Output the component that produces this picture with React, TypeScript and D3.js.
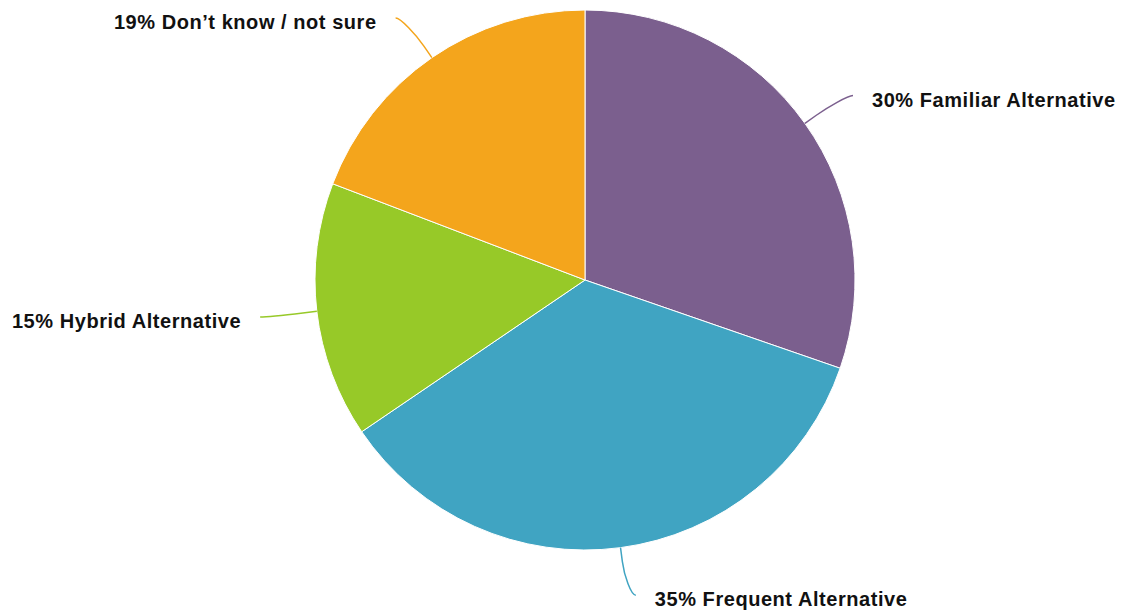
import React from "react";
import * as d3 from "d3";

const categories = ["Familiar Alternative", "Frequent Alternative", "Hybrid Alternative", "Don\u2019t know / not sure"];
const values = [30.3, 35.2, 15.3, 19.2];
const labelPercents = ["30%", "35%", "15%", "19%"];
const colors = ["#7B5F8E", "#40A4C2", "#97C928", "#F4A51C"];

const W = 1126;
const H = 614;
const cx = 585;
const cy = 280;
const R = 270;

export default function App() {
  const pie = d3.pie<number>().sort(null).value((d) => d)(values);
  const arc = d3.arc<d3.PieArcDatum<number>>().innerRadius(0).outerRadius(R);
  const polar = (a: number, r: number) => [Math.sin(a) * r, -Math.cos(a) * r];

  return (
    <svg width={W} height={H} style={{ position: "absolute", left: 0, top: 0, background: "#fff" }}>
      <g transform={`translate(${cx},${cy})`}>
        {pie.map((p, i) => (
          <path key={i} d={arc(p) || ""} fill={colors[i]} stroke="#fff" strokeWidth={1} strokeLinejoin="round" />
        ))}
        {pie.map((p, i) => {
          const mid = (p.startAngle + p.endAngle) / 2;
          const right = Math.sin(mid) >= 0;
          const sgn = right ? 1 : -1;
          const [tx, ty] = polar(mid, R);
          const [bx, by] = polar(mid, R + 14);
          const [lx0, ly] = polar(mid, R + 48);
          const lx = lx0 + 9 * sgn;
          const d = `M${lx},${ly} C${lx - 5 * sgn},${ly} ${2 * bx - tx},${2 * by - ty} ${bx},${by} L${tx},${ty}`;
          return (
            <g key={"l" + i}>
              <path d={d} fill="none" stroke={colors[i]} strokeWidth={1.5} />
              <text
                x={lx + 19 * sgn}
                y={ly + 11}
                textAnchor={right ? "start" : "end"}
                fontFamily="'Liberation Sans', Arial, sans-serif"
                fontWeight="bold"
                fontSize={20}
                letterSpacing={0.55}
                fill="#111"
              >
                {`${labelPercents[i]} ${categories[i]}`}
              </text>
            </g>
          );
        })}
      </g>
    </svg>
  );
}
